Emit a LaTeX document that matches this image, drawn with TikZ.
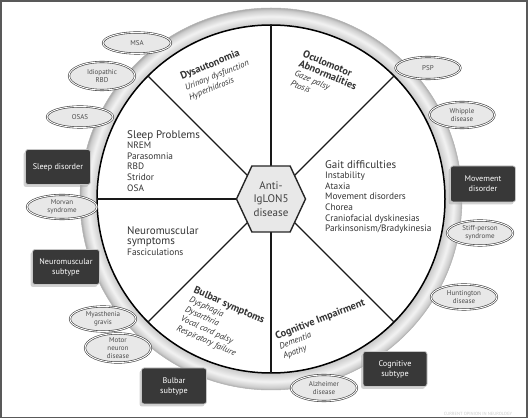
\documentclass[tikz,border=0pt]{standalone}
\usepackage{fontspec}
\setmainfont{PT Sans}
\usetikzlibrary{shapes.geometric,shapes.symbols,shadows}
\pgfdeclareradialshading{ringshade}{\pgfpoint{0bp}{0bp}}{color(0bp)=(gray!45); color(22.7bp)=(gray!45); color(23.9bp)=(gray!10); color(24.7bp)=(gray!40); color(25bp)=(gray!65); color(50bp)=(gray!65)}
\begin{document}
\begin{tikzpicture}[x=1pt,y=-1pt,
  ell/.style={ellipse, draw=black!75, line width=0.6pt, double=white, double distance=0.9pt, fill=gray!18, inner sep=0pt, minimum width=66pt, minimum height=24pt, align=center, font=\fontsize{7}{7.8}\selectfont, text=black!70},
  subtype/.style={rectangle, rounded corners=2.5pt, draw=gray!45, line width=0.8pt, fill=black!78, text=white, minimum width=65pt, minimum height=35pt, align=center, font=\fontsize{8.2}{10}\selectfont, drop shadow={shadow xshift=-2pt, shadow yshift=-2.5pt, fill=gray!70, opacity=0.5}},
  spoke/.style={line width=1.3pt, black!90},
  plain/.style={inner sep=0pt, align=left, text=black!80, font=\fontsize{9.3}{10.6}\selectfont},
  tilted/.style={inner sep=0pt, align=left, text=black!80, font=\fontsize{8.6}{10.4}\itshape}]
\useasboundingbox (0,0) rectangle (528,419);
\draw[black!65, line width=1.6pt] (1,1) rectangle (527,417.5);

\coordinate (o) at (271,199);
\shade[shading=ringshade] (o) circle[radius=191pt];
\draw[gray!60, line width=0.5pt] (o) circle[radius=191pt];
\draw[line width=1.5pt, fill=white] (o) circle[radius=174pt];

\foreach \a in {45,90,135,180,225,270,315} {
  \path (o) ++(\a:174pt) coordinate (rim\a);
  \draw[spoke] (o) -- (rim\a);
}

\node[signal, signal to=east and west, signal pointer angle=130, draw=black!85, line width=1.4pt, fill=gray!18, minimum width=69pt, minimum height=66pt, inner sep=0pt, align=center, font=\fontsize{11}{13.5}\selectfont, text=black!75] (hub) at (o) {Anti-\\IgLON5\\disease};

\node[tilted, rotate=22, anchor=north west] (dys) at (179,72.5) {{\fontsize{10.3}{12}\bfseries\upshape Dysautonomia}\\[1.5pt]Urinary dysfunction\\Hyperhidrosis};
\node[tilted, rotate=-23, anchor=north west] (ocu) at (305,49.5) {{\fontsize{10.3}{12}\bfseries\upshape Oculomotor}\\{\fontsize{10.3}{12}\bfseries\upshape Abnormalities}\\Gaze palsy\\Ptosis};
\node[plain, anchor=north west] (slp) at (127,130) {{\fontsize{11}{12}\selectfont Sleep Problems}\\NREM\\Parasomnia\\RBD\\Stridor\\OSA};
\node[plain, anchor=north west] (gait) at (325,160) {{\fontsize{11}{12.5}\selectfont Gait difficulties}\\Instability\\Ataxia\\Movement disorders\\Chorea\\Craniofacial dyskinesias\\Parkinsonism/Bradykinesia};
\node[plain, anchor=north west] (neu) at (127,226) {{\fontsize{11}{11.5}\selectfont Neuromuscular}\\{\fontsize{11}{11.5}\selectfont symptoms}\\Fasciculations};
\node[tilted, rotate=-24, anchor=north west] (bul) at (196,285.5) {{\fontsize{10.3}{12}\bfseries\upshape Bulbar symptoms}\\Dysphagia\\Dysarthria\\Vocal cord palsy\\Respiratory failure};
\node[tilted, rotate=21, anchor=north west] (cog) at (274,332.5) {{\fontsize{10.3}{12}\bfseries\upshape Cognitive Impairment}\\Dementia\\Apathy};

\node[ell, minimum width=68pt, minimum height=21pt] (msa) at (137,43) {MSA};
\node[ell, minimum height=28pt] (irbd) at (102,76) {Idiopathic\\RBD};
\node[ell, minimum height=21pt] (osas) at (80,117) {OSAS};
\node[ell, minimum width=70pt] (morvan) at (62,207) {Morvan\\syndrome};
\node[ell, minimum height=28pt] (mnd) at (118,348) {Motor\\neuron\\disease};
\node[ell, minimum height=25pt] (mg) at (103,319) {Myasthenia\\gravis};
\node[ell, minimum width=65pt, minimum height=22pt] (psp) at (428,68) {PSP};
\node[ell, minimum width=65pt, minimum height=26pt] (whipple) at (462,115) {Whipple\\disease};
\node[ell, minimum height=25pt] (sps) at (480,233) {Stiff-person\\syndrome};
\node[ell, minimum height=25pt] (hunt) at (464,297) {Huntington\\disease};
\node[ell, minimum height=26pt] (alz) at (324,388) {Alzheimer\\disease};

\node[subtype] (sleepd) at (58,167) {Sleep disorder};
\node[subtype, minimum width=67pt] (nmsub) at (66,267) {Neuromuscular\\subtype};
\node[subtype, minimum height=36pt] (bulbsub) at (174,386) {Bulbar\\subtype};
\node[subtype, minimum height=36pt] (movd) at (483,184) {Movement\\disorder};
\node[subtype, minimum width=64pt] (cogsub) at (395,369) {Cognitive\\subtype};

\node[font=\fontsize{4.5}{5}\selectfont, text=gray!40] (wm) at (478,413.5) {CURRENT OPINION IN NEUROLOGY};
\end{tikzpicture}
\end{document}
